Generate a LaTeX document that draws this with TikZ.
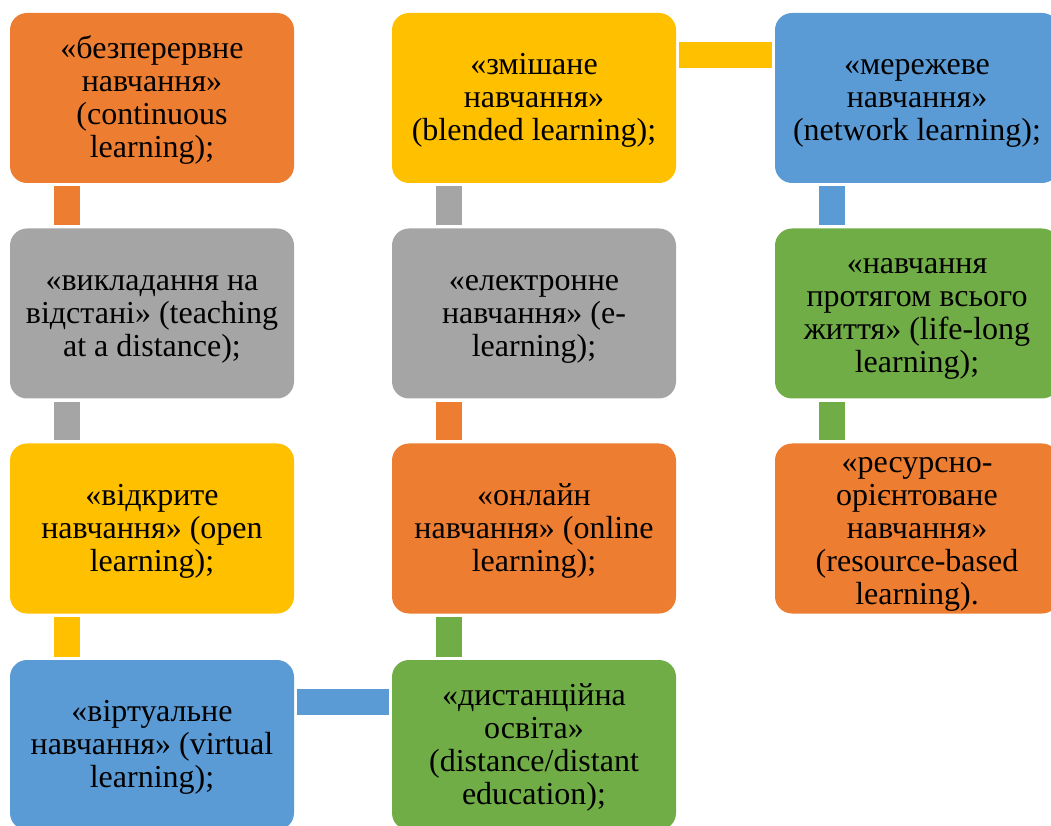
\documentclass[tikz,border=0pt]{standalone}
\usepackage{fontspec}
\setmainfont{Liberation Serif}
\usetikzlibrary{calc}
\definecolor{cOrange}{HTML}{ED7D31}
\definecolor{cGray}{HTML}{A5A5A5}
\definecolor{cYellow}{HTML}{FFC000}
\definecolor{cBlue}{HTML}{5B9BD5}
\definecolor{cGreen}{HTML}{70AD47}
\newcommand\cardtxt[1]{\raisebox{-3pt}[\height][\depth]{\begin{tabular}{@{}c@{}}#1\end{tabular}}}
\tikzset{
  card/.style={rectangle, rounded corners=17pt, minimum width=284pt, minimum height=170pt,
    inner sep=0pt, text=black, fill=#1,
    font=\fontsize{32pt}{33pt}\selectfont},
  link/.style={line width=26pt, draw=#1}
}
\begin{document}
\begin{tikzpicture}[x=1pt,y=1pt]
\useasboundingbox (0,0) rectangle (1051,825);
\clip (0,0) rectangle (1051,825);
% column 1
\node[card=cOrange] (a1) at (152,727) {\cardtxt{«безперервне\\навчання»\\(continuous\\learning);}};
\node[card=cGray] (a2) at (152,511.5) {\cardtxt{«викладання на\\відстані» (teaching\\at a distance);}};
\node[card=cYellow] (a3) at (152,296.5) {\cardtxt{«відкрите\\навчання» (open\\learning);}};
\node[card=cBlue] (a4) at (152,80) {\cardtxt{«віртуальне\\навчання» (virtual\\learning);}};
% column 2
\node[card=cYellow] (b1) at (534,727) {\cardtxt{«змішане\\навчання»\\(blended learning);}};
\node[card=cGray] (b2) at (534,511.5) {\cardtxt{«електронне\\навчання» (e-\\learning);}};
\node[card=cOrange] (b3) at (534,296.5) {\cardtxt{«онлайн\\навчання» (online\\learning);}};
\node[card=cGreen] (b4) at (534,80) {\cardtxt{«дистанційна\\освіта»\\(distance/distant\\education);}};
% column 3
\node[card=cBlue] (c1) at (917,727) {\cardtxt{«мережеве\\навчання»\\(network learning);}};
\node[card=cGreen] (c2) at (917,511.5) {\cardtxt{«навчання\\протягом всього\\життя» (life-long\\learning);}};
\node[card=cOrange] (c3) at (917,296.5) {\cardtxt{«ресурсно-\\орієнтоване\\навчання»\\(resource-based\\learning).}};
% connectors
\draw[link=cOrange] ($(a1.south west)+(57,-3)$) -- ($(a2.north west)+(57,3)$);
\draw[link=cGray] ($(a2.south west)+(57,-3)$) -- ($(a3.north west)+(57,3)$);
\draw[link=cYellow] ($(a3.south west)+(57,-3)$) -- ($(a4.north west)+(57,3)$);
\draw[link=cBlue] ($(a4.north east)+(3,-42)$) -- ($(b4.north west)+(-3,-42)$);
\draw[link=cGreen] ($(b4.north west)+(57,3)$) -- ($(b3.south west)+(57,-3)$);
\draw[link=cOrange] ($(b3.north west)+(57,3)$) -- ($(b2.south west)+(57,-3)$);
\draw[link=cGray] ($(b2.north west)+(57,3)$) -- ($(b1.south west)+(57,-3)$);
\draw[link=cYellow] ($(b1.north east)+(3,-42)$) -- ($(c1.north west)+(-3,-42)$);
\draw[link=cBlue] ($(c1.south west)+(57,-3)$) -- ($(c2.north west)+(57,3)$);
\draw[link=cGreen] ($(c2.south west)+(57,-3)$) -- ($(c3.north west)+(57,3)$);
\end{tikzpicture}
\end{document}
